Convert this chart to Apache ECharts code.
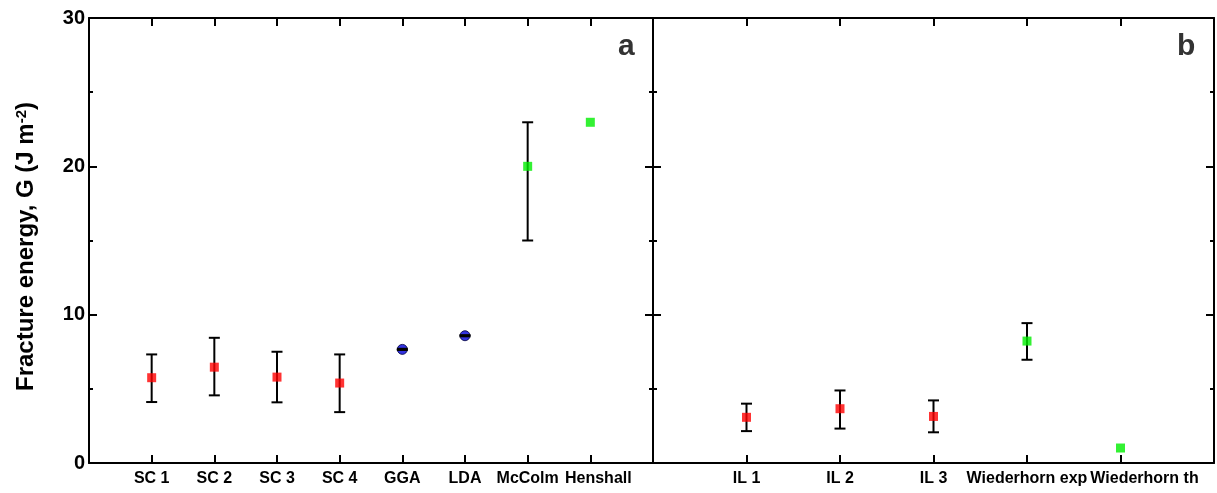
<!DOCTYPE html>
<html>
<head>
<meta charset="utf-8">
<script src="https://cdn.jsdelivr.net/npm/echarts@6/dist/echarts.min.js"></script>
<style>
  html, body { margin: 0; padding: 0; background: #fff; }
  #chart { width: 1217px; height: 493px; }
</style>
</head>
<body>
<div id="chart"></div>
<script>
// Panel a: single-crystal runs, DFT results and literature values
const leftCategories = ['SC 1', 'SC 2', 'SC 3', 'SC 4', 'GGA', 'LDA', 'McColm', 'Henshall'];
const leftValues     = [5.75, 6.46, 5.79, 5.39, 7.66, 8.58, 20.0, 22.97];
const leftLow        = [4.11, 4.56, 4.09, 3.43, 7.62, 8.54, 15.0, null];
const leftHigh       = [7.32, 8.44, 7.50, 7.32, 7.70, 8.62, 22.97, null];
const leftGroups     = ['meas', 'meas', 'meas', 'meas', 'calc', 'calc', 'lit', 'lit'];

// Panel b: indentation runs and Wiederhorn values
const rightCategories = ['IL 1', 'IL 2', 'IL 3', 'Wiederhorn exp', 'Wiederhorn th'];
const rightValues     = [3.08, 3.66, 3.14, 8.22, 1.01];
const rightLow        = [2.15, 2.32, 2.07, 6.96, null];
const rightHigh       = [4.00, 4.89, 4.22, 9.43, null];
const rightGroups     = ['meas', 'meas', 'meas', 'lit', 'lit'];

const yTicks = { min: 0, max: 30, interval: 10 };

const FONT = 'Liberation Sans, Arial, sans-serif';

const groupStyle = {
  meas: { symbol: 'rect', symbolSize: 9, itemStyle: { color: '#ff0000' } },
  calc: { symbol: 'circle', symbolSize: 10, itemStyle: { color: '#0000d8', borderColor: '#000040', borderWidth: 1 } },
  lit:  { symbol: 'rect', symbolSize: 9, itemStyle: { color: '#00ee00' } }
};

// a few crowded tick labels are nudged right (left padding, in px)
const labelNudge = { 'Henshall': 16, 'Wiederhorn th': 48 };

function points(values, groups, g) {
  const out = [];
  values.forEach((v, i) => { if (groups[i] === g) out.push([i + 1, v]); });
  return out;
}
function errorBars(low, high, groups, pick) {
  const out = [];
  low.forEach((lo, i) => {
    if (lo != null && pick(groups[i])) out.push([i + 1, lo, high[i]]);
  });
  return out;
}

function renderErrorBar(params, api) {
  const x = api.value(0);
  const top = api.coord([x, api.value(2)]);
  const bot = api.coord([x, api.value(1)]);
  const hw = 5.5;
  const style = { stroke: '#000', lineWidth: 2, fill: null };
  return {
    type: 'group',
    children: [
      { type: 'line', shape: { x1: top[0], y1: top[1], x2: bot[0], y2: bot[1] }, style: style },
      { type: 'line', shape: { x1: top[0] - hw, y1: top[1], x2: top[0] + hw, y2: top[1] }, style: style },
      { type: 'line', shape: { x1: bot[0] - hw, y1: bot[1], x2: bot[0] + hw, y2: bot[1] }, style: style }
    ]
  };
}

const axisLine = { show: true, onZero: false, lineStyle: { color: '#000', width: 2 } };
const tickStyle = { color: '#000', width: 2 };
const labelFont = { fontFamily: FONT, fontWeight: 'bold', fontSize: 16, color: '#000' };

function xAxisFor(gridIndex, count, cats, position, showLabels) {
  const rich = {};
  Object.keys(labelNudge).forEach((name, k) => {
    rich['n' + k] = Object.assign({ padding: [0, 0, 0, labelNudge[name]] }, labelFont);
  });
  return {
    type: 'value', gridIndex: gridIndex, position: position,
    min: 0, max: count + 1, interval: 1,
    axisLine: axisLine,
    axisTick: { show: true, inside: true, length: 8, lineStyle: tickStyle },
    splitLine: { show: false },
    axisLabel: Object.assign({
      show: showLabels, margin: 8, rich: rich,
      formatter: v => {
        const name = cats[v - 1] || '';
        const k = Object.keys(labelNudge).indexOf(name);
        return k >= 0 ? '{n' + k + '|' + name + '}' : name;
      }
    }, labelFont)
  };
}

function yAxisFor(gridIndex, position, showLabels, extra) {
  return Object.assign({
    type: 'value', gridIndex: gridIndex, position: position,
    min: yTicks.min, max: yTicks.max, interval: yTicks.interval,
    axisLine: axisLine,
    axisTick: { show: true, inside: true, length: 8, lineStyle: tickStyle },
    minorTick: { show: true, splitNumber: 2, length: 4, lineStyle: tickStyle },
    splitLine: { show: false },
    axisLabel: { show: showLabels, margin: 4, fontFamily: FONT, fontWeight: 'bold', fontSize: 20, color: '#000' }
  }, extra || {});
}

const chart = echarts.init(document.getElementById('chart'), null, { renderer: 'canvas' });

const option = {
  animation: false,
  backgroundColor: '#fff',
  title: [
    { text: 'a', left: 613, top: 27, textStyle: { fontFamily: FONT, fontWeight: 'bold', fontSize: 30, color: '#333' } },
    { text: 'b', left: 1172, top: 27, textStyle: { fontFamily: FONT, fontWeight: 'bold', fontSize: 30, color: '#333' } }
  ],
  grid: [
    { left: 89, top: 18, width: 564, height: 445 },
    { left: 653, top: 18, width: 562, height: 445 }
  ],
  xAxis: [
    xAxisFor(0, leftCategories.length, leftCategories, 'bottom', true),
    xAxisFor(0, leftCategories.length, leftCategories, 'top', false),
    xAxisFor(1, rightCategories.length, rightCategories, 'bottom', true),
    xAxisFor(1, rightCategories.length, rightCategories, 'top', false)
  ],
  yAxis: [
    yAxisFor(0, 'left', true, {
      name: 'Fracture energy, G (J m{sup|-2})',
      nameLocation: 'middle', nameGap: 51,
      nameTextStyle: {
        fontFamily: FONT, fontWeight: 'bold', fontSize: 24, color: '#000',
        padding: [0, 12, 0, 0],
        rich: {
          sup: { fontFamily: FONT, fontWeight: 'bold', fontSize: 15, color: '#000', verticalAlign: 'top', lineHeight: 15 }
        }
      }
    }),
    yAxisFor(0, 'right', false),
    yAxisFor(1, 'left', false),
    yAxisFor(1, 'right', false)
  ],
  series: [
    // error bars beneath the square markers
    { type: 'custom', xAxisIndex: 0, yAxisIndex: 0, z: 2, renderItem: renderErrorBar, encode: { x: 0, y: [1, 2] },
      data: errorBars(leftLow, leftHigh, leftGroups, g => g !== 'calc') },
    { type: 'custom', xAxisIndex: 2, yAxisIndex: 2, z: 2, renderItem: renderErrorBar, encode: { x: 0, y: [1, 2] },
      data: errorBars(rightLow, rightHigh, rightGroups, g => g !== 'calc') },
    // left panel markers
    Object.assign({ type: 'scatter', xAxisIndex: 0, yAxisIndex: 0, z: 3, data: points(leftValues, leftGroups, 'meas') }, groupStyle.meas),
    Object.assign({ type: 'scatter', xAxisIndex: 0, yAxisIndex: 0, z: 3, data: points(leftValues, leftGroups, 'calc') }, groupStyle.calc),
    Object.assign({ type: 'scatter', xAxisIndex: 0, yAxisIndex: 0, z: 3, data: points(leftValues, leftGroups, 'lit') }, groupStyle.lit),
    // the narrow bars of the calculated values sit over their circles
    { type: 'custom', xAxisIndex: 0, yAxisIndex: 0, z: 4, renderItem: renderErrorBar, encode: { x: 0, y: [1, 2] },
      data: errorBars(leftLow, leftHigh, leftGroups, g => g === 'calc') },
    // right panel markers
    Object.assign({ type: 'scatter', xAxisIndex: 2, yAxisIndex: 2, z: 3, data: points(rightValues, rightGroups, 'meas') }, groupStyle.meas),
    Object.assign({ type: 'scatter', xAxisIndex: 2, yAxisIndex: 2, z: 3, data: points(rightValues, rightGroups, 'lit') }, groupStyle.lit)
  ]
};

chart.setOption(option);
</script>
</body>
</html>
